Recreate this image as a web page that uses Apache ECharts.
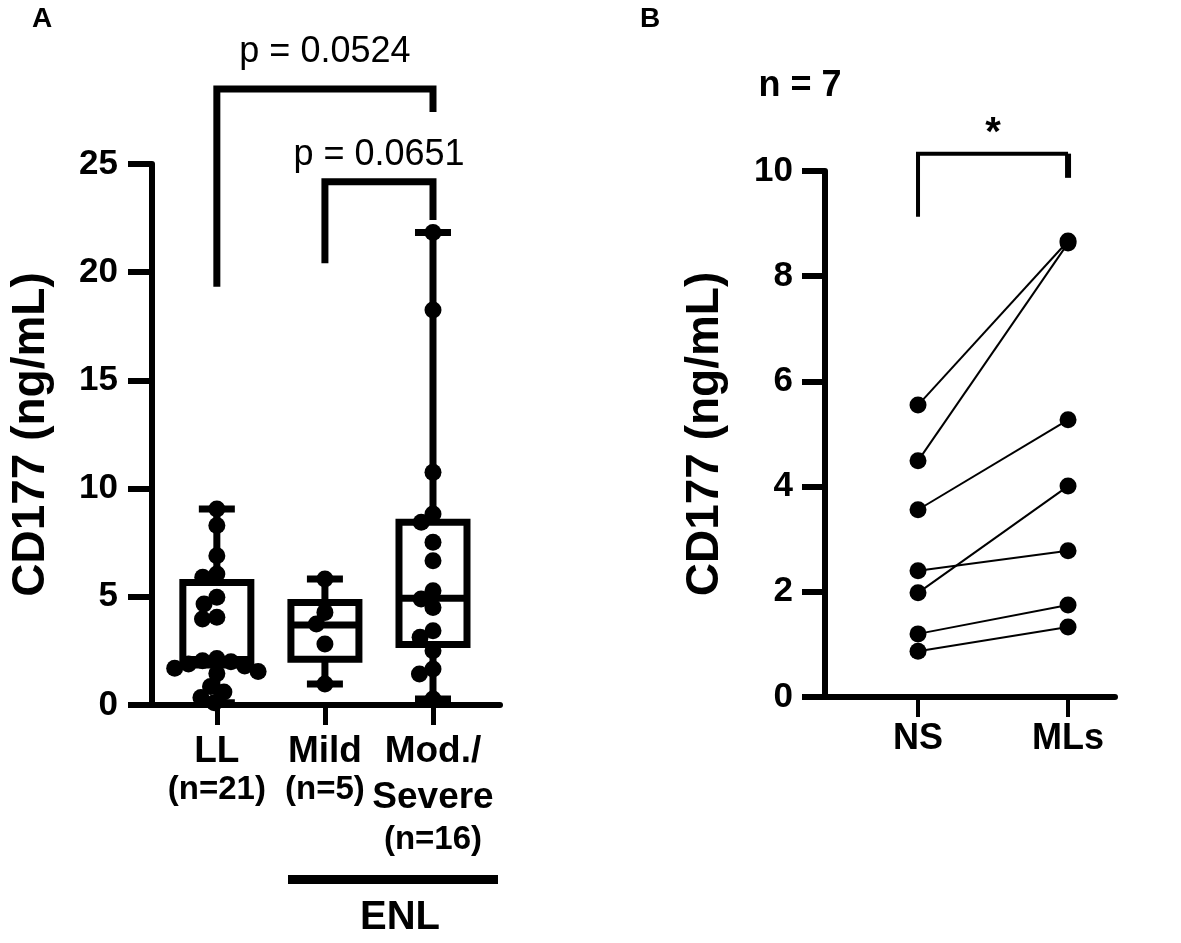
<!DOCTYPE html>
<html>
<head>
<meta charset="utf-8">
<script src="https://cdn.jsdelivr.net/npm/echarts@6/dist/echarts.min.js"></script>
<style>
  html, body { margin: 0; padding: 0; background: #fff; }
  #chart { width: 1181px; height: 943px; }
</style>
</head>
<body>
<div id="chart"></div>
<script>
// ---- panel A data ----
const groupNames = ['LL', 'Mild', 'Mod./|Severe']
const groupN = [21, 5, 16]
const llValues = [9.06, 8.29, 6.9, 6.05, 5.9, 4.98, 4.67, 4.05, 3.97, 2.15, 2.05, 2.0, 1.9, 1.8, 1.7, 1.55, 1.45, 0.85, 0.6, 0.35, 0.1]
const mildValues = [5.82, 4.28, 3.74, 2.82, 0.97]
const modValues = [21.83, 18.25, 10.75, 8.83, 8.44, 7.52, 6.67, 5.28, 4.9, 4.51, 3.43, 3.13, 2.51, 1.66, 1.43, 0.28]
const boxQ1 = [1.85, 2.11, 2.80]
const boxMedian = [2.1, 3.70, 4.93]
const boxQ3 = [5.66, 4.74, 8.44]
const yTicksA = [0, 5, 10, 15, 20, 25]

// brackets (category index, value units)
const bracketFrom = [0, 1]
const bracketTo = [2, 2]
const bracketTop = [28.47, 24.18]
const bracketLeftEnd = [19.33, 20.41]
const bracketRightEnd = [27.4, 22.41]
const pLabels = ['p = 0.0524', 'p = 0.0651']
const pLabelY = [30.17, 25.42]

// ---- panel B data ----
const pairCats = ['NS', 'MLs']
const nsValues = [5.55, 4.49, 3.56, 2.40, 1.98, 1.20, 0.87]
const mlsValues = [8.67, 8.63, 5.27, 2.78, 4.01, 1.75, 1.33]
const yTicksB = [0, 2, 4, 6, 8, 10]
const sigB = { from: 0, to: 1, top: 10.33, leftEnd: 9.13, rightEnd: 9.87, label: '*', labelY: 10.7 }

const FONT = '"Liberation Sans", Arial, sans-serif'
const gridA = { left: 152, top: 164, width: 348, height: 541 }
const gridB = { left: 825, top: 171, width: 290, height: 526 }
const xMinA = -0.6, xMaxA = 2.62
const xMinB = -0.62, xMaxB = 1.313
const DOT = 17

// simple beeswarm: horizontal offsets (px) so dots do not pile up
function swarm(values, pxPerY, d) {
  const placed = []
  return values.map(v => {
    const y = v * pxPerY
    const blocked = placed.filter(p => Math.abs(p.y - y) < d).map(p => {
      const w = Math.sqrt(d * d - (p.y - y) * (p.y - y))
      return [p.x - w, p.x + w]
    })
    const cands = [0]
    blocked.forEach(b => cands.push(b[0], b[1]))
    cands.sort((a, b) => Math.abs(a) - Math.abs(b))
    const x = cands.find(c => blocked.every(b => c <= b[0] + 1e-6 || c >= b[1] - 1e-6))
    placed.push({ x, y })
    return x
  })
}

const pxPerYA = gridA.height / 25
const pxPerXA = gridA.width / (xMaxA - xMinA)
const groupsA = [llValues, mildValues, modValues]
const dotsA = []
groupsA.forEach((vals, gi) => {
  const offs = swarm(vals, pxPerYA, DOT * 0.85)
  vals.forEach((v, i) => dotsA.push([gi + offs[i] / pxPerXA, v]))
})

const boxData = groupsA.map((vals, i) => [i, Math.min(...vals), boxQ1[i], boxMedian[i], boxQ3[i], Math.max(...vals)])
const bracketData = bracketFrom.map((f, i) => [f, bracketTo[i], bracketTop[i], bracketLeftEnd[i], bracketRightEnd[i], pLabelY[i]])

function labelA(v) {
  const i = Math.round(v)
  const parts = groupNames[i].split('|')
  if (parts.length === 1) return '{b|' + parts[0] + '}\n{s|(n=' + groupN[i] + ')}'
  return '{b|' + parts[0] + '}\n{t|' + parts[1] + '}\n{s|(n=' + groupN[i] + ')}'
}

const chart = echarts.init(document.getElementById('chart'), null, { renderer: 'canvas' })

const axisTitle = { fontFamily: FONT, fontWeight: 'bold', fontSize: 46, color: '#000' }

chart.setOption({
  animation: false,
  textStyle: { fontFamily: FONT, color: '#000' },
  grid: [
    { left: gridA.left, top: gridA.top, width: gridA.width, height: gridA.height, containLabel: false },
    { left: gridB.left, top: gridB.top, width: gridB.width, height: gridB.height, containLabel: false }
  ],
  xAxis: [
    {
      type: 'value', gridIndex: 0, min: xMinA, max: xMaxA,
      splitLine: { show: false },
      axisLine: { onZero: false, lineStyle: { color: '#000', width: 6 } },
      axisTick: { customValues: [0, 1, 2], length: 20, lineStyle: { color: '#000', width: 5 } },
      axisLabel: {
        customValues: [0, 1, 2], margin: 26, formatter: labelA, color: '#000',
        rich: {
          b: { fontFamily: FONT, fontWeight: 'bold', fontSize: 37, lineHeight: 42, color: '#000' },
          t: { fontFamily: FONT, fontWeight: 'bold', fontSize: 37, lineHeight: 50, color: '#000' },
          s: { fontFamily: FONT, fontWeight: 'bold', fontSize: 33, lineHeight: 34, color: '#000' }
        }
      }
    },
    {
      type: 'value', gridIndex: 1, min: xMinB, max: xMaxB,
      splitLine: { show: false },
      axisLine: { onZero: false, lineStyle: { color: '#000', width: 6 } },
      axisTick: { customValues: [0, 1], length: 20, lineStyle: { color: '#000', width: 4 } },
      axisLabel: {
        customValues: [0, 1], margin: 24, formatter: v => pairCats[Math.round(v)],
        fontFamily: FONT, fontWeight: 'bold', fontSize: 36, color: '#000'
      }
    }
  ],
  yAxis: [
    {
      type: 'value', gridIndex: 0, min: 0, max: 25, interval: 5,
      name: 'CD177 (ng/mL)', nameLocation: 'middle', nameGap: 98, nameRotate: 90, nameTextStyle: axisTitle,
      splitLine: { show: false },
      axisLine: { show: true, onZero: false, lineStyle: { color: '#000', width: 6 } },
      axisTick: { show: true, length: 24, lineStyle: { color: '#000', width: 6 } },
      axisLabel: { margin: 34, fontFamily: FONT, fontWeight: 'bold', fontSize: 35, color: '#000',
        formatter: v => yTicksA.includes(v) ? String(v) : '' }
    },
    {
      type: 'value', gridIndex: 1, min: 0, max: 10, interval: 2,
      name: 'CD177 (ng/mL)', nameLocation: 'middle', nameGap: 97, nameRotate: 90, nameTextStyle: axisTitle,
      splitLine: { show: false },
      axisLine: { show: true, onZero: false, lineStyle: { color: '#000', width: 6 } },
      axisTick: { show: true, length: 23, lineStyle: { color: '#000', width: 6 } },
      axisLabel: { margin: 32, fontFamily: FONT, fontWeight: 'bold', fontSize: 35, color: '#000',
        formatter: v => yTicksB.includes(v) ? String(v) : '' }
    }
  ],
  graphic: [
    { type: 'text', left: 32, top: 5, style: { text: 'A', font: 'bold 28px ' + FONT, fill: '#000' } },
    { type: 'text', left: 640, top: 5, style: { text: 'B', font: 'bold 28px ' + FONT, fill: '#000' } },
    { type: 'text', x: 800, y: 86, style: { text: 'n = 7', font: 'bold 36px ' + FONT, fill: '#000', align: 'center', verticalAlign: 'middle', textAlign: 'center', textVerticalAlign: 'middle' } },
    { type: 'rect', shape: { x: 288, y: 875, width: 210, height: 9 }, style: { fill: '#000' } },
    { type: 'text', x: 400, y: 918, style: { text: 'ENL', font: 'bold 40px ' + FONT, fill: '#000', align: 'center', verticalAlign: 'middle', textAlign: 'center', textVerticalAlign: 'middle' } }
  ],
  series: [
    {
      type: 'custom', xAxisIndex: 0, yAxisIndex: 0, clip: false, z: 2,
      data: boxData, encode: { x: 0, y: [1, 2, 3, 4, 5] },
      renderItem: (params, api) => {
        const x = api.value(0)
        const p = v => api.coord([x, v])
        const mn = p(api.value(1)), q1 = p(api.value(2)), md = p(api.value(3)), q3 = p(api.value(4)), mx = p(api.value(5))
        const cx = mn[0], half = 34, cap = 18
        const ls = { stroke: '#000', lineWidth: 7 }
        return {
          type: 'group',
          children: [
            { type: 'line', shape: { x1: cx, y1: mn[1], x2: cx, y2: q1[1] }, style: ls },
            { type: 'line', shape: { x1: cx, y1: q3[1], x2: cx, y2: mx[1] }, style: ls },
            { type: 'line', shape: { x1: cx - cap, y1: mn[1], x2: cx + cap, y2: mn[1] }, style: ls },
            { type: 'line', shape: { x1: cx - cap, y1: mx[1], x2: cx + cap, y2: mx[1] }, style: ls },
            { type: 'rect', shape: { x: cx - half, y: q3[1], width: half * 2, height: q1[1] - q3[1] }, style: { fill: '#fff', stroke: '#000', lineWidth: 7 } },
            { type: 'line', shape: { x1: cx - half, y1: md[1], x2: cx + half, y2: md[1] }, style: ls }
          ]
        }
      }
    },
    {
      type: 'scatter', xAxisIndex: 0, yAxisIndex: 0, z: 3,
      symbol: 'circle', symbolSize: DOT, itemStyle: { color: '#000', opacity: 1 },
      data: dotsA
    },
    {
      type: 'custom', xAxisIndex: 0, yAxisIndex: 0, clip: false, z: 4,
      data: bracketData, encode: { x: [0, 1], y: [2, 3, 4, 5] },
      renderItem: (params, api) => {
        const a = api.coord([api.value(0), api.value(2)])
        const b = api.coord([api.value(1), api.value(2)])
        const la = api.coord([api.value(0), api.value(3)])
        const rb = api.coord([api.value(1), api.value(4)])
        const t = api.coord([(api.value(0) + api.value(1)) / 2, api.value(5)])
        const ls = { stroke: '#000', lineWidth: 7 }
        return {
          type: 'group',
          children: [
            { type: 'polyline', shape: { points: [la, a, b, rb] }, style: Object.assign({ fill: null, lineJoin: 'miter' }, ls) },
            { type: 'text', x: t[0], y: t[1], style: { text: pLabels[params.dataIndex], font: '36px ' + FONT, fill: '#000', align: 'center', verticalAlign: 'middle', textAlign: 'center', textVerticalAlign: 'middle' } }
          ]
        }
      }
    },
    // panel B paired lines
    ...nsValues.map((v, i) => ({
      type: 'line', xAxisIndex: 1, yAxisIndex: 1, z: 3,
      symbol: 'circle', symbolSize: DOT,
      itemStyle: { color: '#000', opacity: 1 }, lineStyle: { color: '#000', width: 2 },
      data: [[0, v], [1, mlsValues[i]]]
    })),
    {
      type: 'custom', xAxisIndex: 1, yAxisIndex: 1, clip: false, z: 4,
      data: [[sigB.from, sigB.to, sigB.top, sigB.leftEnd, sigB.rightEnd, sigB.labelY]],
      encode: { x: [0, 1], y: [2, 3, 4, 5] },
      renderItem: (params, api) => {
        const a = api.coord([api.value(0), api.value(2)])
        const b = api.coord([api.value(1), api.value(2)])
        const la = api.coord([api.value(0), api.value(3)])
        const rb = api.coord([api.value(1), api.value(4)])
        const t = api.coord([(api.value(0) + api.value(1)) / 2, api.value(5)])
        return {
          type: 'group',
          children: [
            { type: 'polyline', shape: { points: [la, a, b] }, style: { fill: null, stroke: '#000', lineWidth: 4 } },
            { type: 'line', shape: { x1: b[0], y1: b[1], x2: rb[0], y2: rb[1] }, style: { stroke: '#000', lineWidth: 6 } },
            { type: 'text', x: t[0], y: t[1], style: { text: sigB.label, font: 'bold 40px ' + FONT, fill: '#000', align: 'center', verticalAlign: 'middle', textAlign: 'center', textVerticalAlign: 'middle' } }
          ]
        }
      }
    }
  ]
})
</script>
</body>
</html>
